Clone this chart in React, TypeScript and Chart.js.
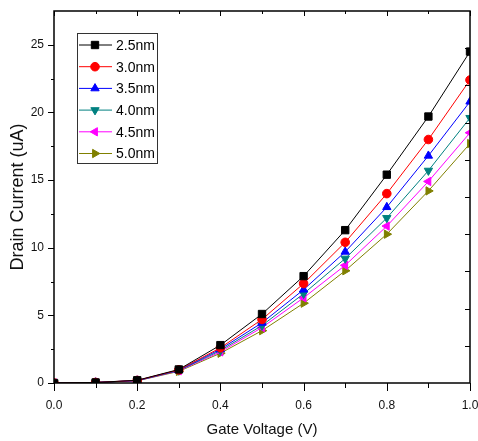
import React, { useEffect, useRef } from 'react';
import { Chart, registerables } from 'chart.js';
import { drawPoint } from 'chart.js/helpers';

Chart.register(...registerables);

const gateVoltage = [0, 0.1, 0.2, 0.3, 0.4, 0.5, 0.6, 0.7, 0.8, 0.9, 1.0];
const seriesLabels = ['2.5nm', '3.0nm', '3.5nm', '4.0nm', '4.5nm', '5.0nm'];
const current25 = [0, 0.04, 0.2, 1.0, 2.8, 5.1, 7.9, 11.3, 15.4, 19.7, 24.5];
const current30 = [0, 0.04, 0.19, 0.97, 2.6, 4.7, 7.35, 10.4, 14.0, 18.0, 22.4];
const current35 = [0, 0.04, 0.18, 0.95, 2.5, 4.45, 6.9, 9.7, 13.0, 16.8, 20.8];
const current40 = [0, 0.04, 0.17, 0.92, 2.4, 4.25, 6.6, 9.2, 12.2, 15.7, 19.6];
const current45 = [0, 0.04, 0.17, 0.9, 2.3, 4.1, 6.3, 8.7, 11.6, 14.9, 18.5];
const current50 = [0, 0.04, 0.16, 0.86, 2.2, 3.87, 5.9, 8.3, 11.0, 14.2, 17.7];
const xTickValues = [0, 0.2, 0.4, 0.6, 0.8, 1.0];
const yTickValues = [0, 5, 10, 15, 20, 25];

const seriesValues = [current25, current30, current35, current40, current45, current50];
const colors = ['#000000', '#ff0000', '#0000ff', '#008080', '#ff00ff', '#808000'];
const pointStyles = ['rect', 'circle', 'triangle', 'triangle', 'triangle', 'triangle'];
const rotations = [0, 0, 0, 180, 270, 90];
const radii = [5.2, 4.3, 4.8, 4.8, 4.8, 4.8];

const FONT = 'Arial, "Liberation Sans", sans-serif';

const framePlugin = {
  id: 'frame',
  afterDatasetsDraw(chart: any) {
    const { ctx, chartArea: a, scales } = chart;
    const xs = scales.x;
    const ys = scales.y;
    ctx.save();
    ctx.strokeStyle = '#000';
    ctx.lineWidth = 1.5;
    ctx.strokeRect(a.left, a.top, a.right - a.left, a.bottom - a.top);
    ctx.lineWidth = 1;
    ctx.beginPath();
    for (let i = 0; i <= 10; i++) {
      const px = Math.round(xs.getPixelForValue(i / 10)) + 0.5;
      const major = i % 2 === 0;
      ctx.moveTo(px, a.bottom);
      ctx.lineTo(px, a.bottom + (major ? 8 : 5));
      ctx.moveTo(px, a.top);
      ctx.lineTo(px, a.top + (major ? 5 : 3));
    }
    for (let k = 0; k <= 10; k++) {
      const py = Math.round(ys.getPixelForValue(k * 2.5)) + 0.5;
      const major = k % 2 === 0;
      ctx.moveTo(a.left - (major ? 6 : 3), py);
      ctx.lineTo(a.left, py);
    }
    for (let k = 1; k < 10; k++) {
      const py = Math.round(a.bottom - ((a.bottom - a.top) * k) / 10) + 0.5;
      ctx.moveTo(a.right - 5, py);
      ctx.lineTo(a.right, py);
    }
    ctx.stroke();

    // legend
    const lx = 77, ly = 33, lw = 80, lh = 130;
    ctx.lineWidth = 1;
    ctx.strokeStyle = '#333';
    ctx.strokeRect(lx + 0.5, ly + 0.5, lw, lh);
    chart.data.datasets.forEach((ds: any, i: number) => {
      const cy = 45 + i * 21.7;
      ctx.strokeStyle = ds.borderColor;
      ctx.lineWidth = 1;
      ctx.beginPath();
      ctx.moveTo(79, cy);
      ctx.lineTo(112, cy);
      ctx.stroke();
      ctx.fillStyle = ds.backgroundColor;
      ctx.strokeStyle = ds.borderColor;
      drawPoint(ctx, { pointStyle: ds.pointStyle, rotation: ds.pointRotation, radius: ds.pointRadius, borderWidth: 1 }, 95, cy);
      ctx.fillStyle = '#000';
      ctx.font = '14px ' + FONT;
      ctx.textBaseline = 'middle';
      ctx.textAlign = 'left';
      ctx.fillText(ds.label, 116, cy + 1);
    });
    ctx.restore();
  },
};

export default function App() {
  const ref = useRef<HTMLCanvasElement>(null);
  useEffect(() => {
    if (!ref.current) return;
    const datasets = seriesValues.map((vals, i) => ({
      label: seriesLabels[i],
      data: vals.map((v, j) => ({ x: gateVoltage[j], y: v })),
      borderColor: colors[i],
      backgroundColor: colors[i],
      borderWidth: 1,
      pointStyle: pointStyles[i],
      pointRotation: rotations[i],
      pointRadius: radii[i],
      pointBorderWidth: 1,
      tension: 0,
    }));
    const chart = new Chart(ref.current, {
      type: 'line',
      data: { datasets },
      plugins: [framePlugin],
      options: {
        responsive: false,
        animation: false,
        layout: { padding: { top: 11, right: 8, left: 0, bottom: 0 } },
        plugins: { legend: { display: false }, tooltip: { enabled: false } },
        scales: {
          x: {
            type: 'linear',
            min: 0,
            max: 1,
            afterFit: (s: any) => { s.height = 58; s.paddingLeft = 0; s.paddingRight = 0; },
            afterBuildTicks: (s: any) => { s.ticks = xTickValues.map((v) => ({ value: v })); },
            grid: { display: false, drawTicks: false },
            border: { display: false },
            ticks: {
              padding: 15,
              color: '#111',
              font: { family: FONT, size: 12 },
              maxRotation: 0,
              callback: (v: any) => Number(v).toFixed(1),
            },
            title: { display: true, text: 'Gate Voltage (V)', color: '#111', font: { family: FONT, size: 15 }, padding: { top: 0, bottom: 2 } },
          },
          y: {
            type: 'linear',
            min: 0,
            max: 27.5,
            afterFit: (s: any) => { s.width = 54; s.paddingTop = 0; s.paddingBottom = 0; },
            afterBuildTicks: (s: any) => { s.ticks = yTickValues.map((v) => ({ value: v })); },
            grid: { display: false, drawTicks: false },
            border: { display: false },
            ticks: {
              padding: 10,
              color: '#111',
              font: { family: FONT, size: 12 },
              callback: (v: any) => String(v),
            },
            title: { display: true, text: 'Drain Current (uA)', color: '#111', font: { family: FONT, size: 18 }, padding: { top: 7, bottom: 0 } },
          },
        },
      },
    });
    return () => chart.destroy();
  }, []);
  return (
    <div style={{ position: 'absolute', left: 0, top: 0, width: 478, height: 441, background: '#fff' }}>
      <canvas ref={ref} width={478} height={441} />
    </div>
  );
}
